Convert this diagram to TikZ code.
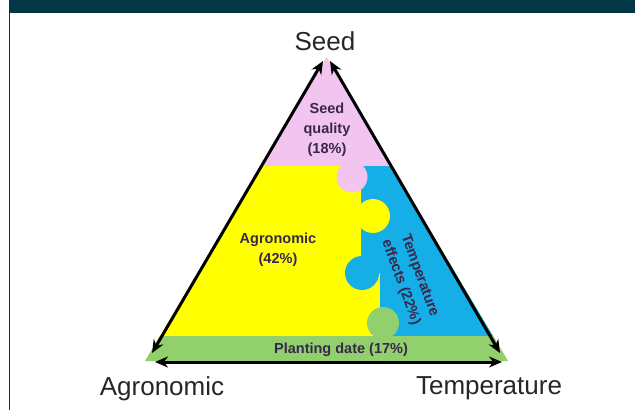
\documentclass[tikz,border=0pt]{standalone}
\usepackage{fontspec}
\setmainfont{Liberation Sans}
\usetikzlibrary{arrows.meta}
\definecolor{headteal}{RGB}{3,54,71}
\definecolor{seedpink}{RGB}{242,196,240}
\definecolor{agroyellow}{RGB}{255,255,0}
\definecolor{tempblue}{RGB}{22,174,230}
\definecolor{plantgreen}{RGB}{146,208,110}
\definecolor{labeltext}{RGB}{55,40,75}

\begin{document}
\begin{tikzpicture}[x=1pt, y=-1pt,
    axis/.style={line width=3pt, {Stealth[length=13pt,width=11pt]}-{Stealth[length=13pt,width=11pt]}},
    corner/.style={font=\fontsize{26}{28}\selectfont, text=black!85, anchor=base},
    share/.style={font=\bfseries\fontsize{14.5}{20}\selectfont, text=labeltext, align=center}]
    \useasboundingbox (0,0) rectangle (635,410);

    % Header bar and left rule
    \fill[headteal] (9,0) rectangle (635,12.5);
    \draw[headteal, line width=1.2pt] (9.5,12.5) -- (9.5,410);

    % Puzzle pieces, clipped to the triangle
    \begin{scope}
        \clip (326.5,57) -- (145,361) -- (508,361) -- cycle;
        \fill[agroyellow] (140,50) rectangle (520,365);
        \fill[tempblue] (361,165) -- (520,165) -- (520,340) -- (380,340)
            -- (380,273) -- (361,273) -- cycle;
        \fill[tempblue] (362,273) circle[radius=17];
        \fill[agroyellow] (373,216) circle[radius=17];
        \fill[seedpink] (140,50) rectangle (520,165.5);
        \fill[seedpink] (352,177) circle[radius=15.5];
        \fill[plantgreen] (140,336) rectangle (520,365);
        \fill[plantgreen] (383,323) circle[radius=16];
    \end{scope}

    % Shares
    \node[share] (seedq) at (327,130) {Seed\\quality\\(18\%)};
    \node[share] (agroq) at (278,250) {Agronomic\\(42\%)};
    \node[share, rotate=-70] (tempq) at (410,279) {Temperature\\effects (22\%)};
    \node[share] (plantq) at (341,350) {Planting date (17\%)};

    % Corner labels
    \node[corner] (seed) at (325,50) {Seed};
    \node[corner] (agro) at (162,395) {Agronomic};
    \node[corner] (temp) at (489,394) {Temperature};

    % Double-headed axes along the sides
    \coordinate (apexL) at (323,61);
    \coordinate (apexR) at (330,61);
    \coordinate (baseL) at (152,353);
    \coordinate (baseR) at (500,353);
    \coordinate (botL) at (155,362);
    \coordinate (botR) at (502,362);
    \draw[axis] (baseL) -- (apexL);
    \draw[axis] (baseR) -- (apexR);
    \draw[axis] (botL) -- (botR);
\end{tikzpicture}
\end{document}
